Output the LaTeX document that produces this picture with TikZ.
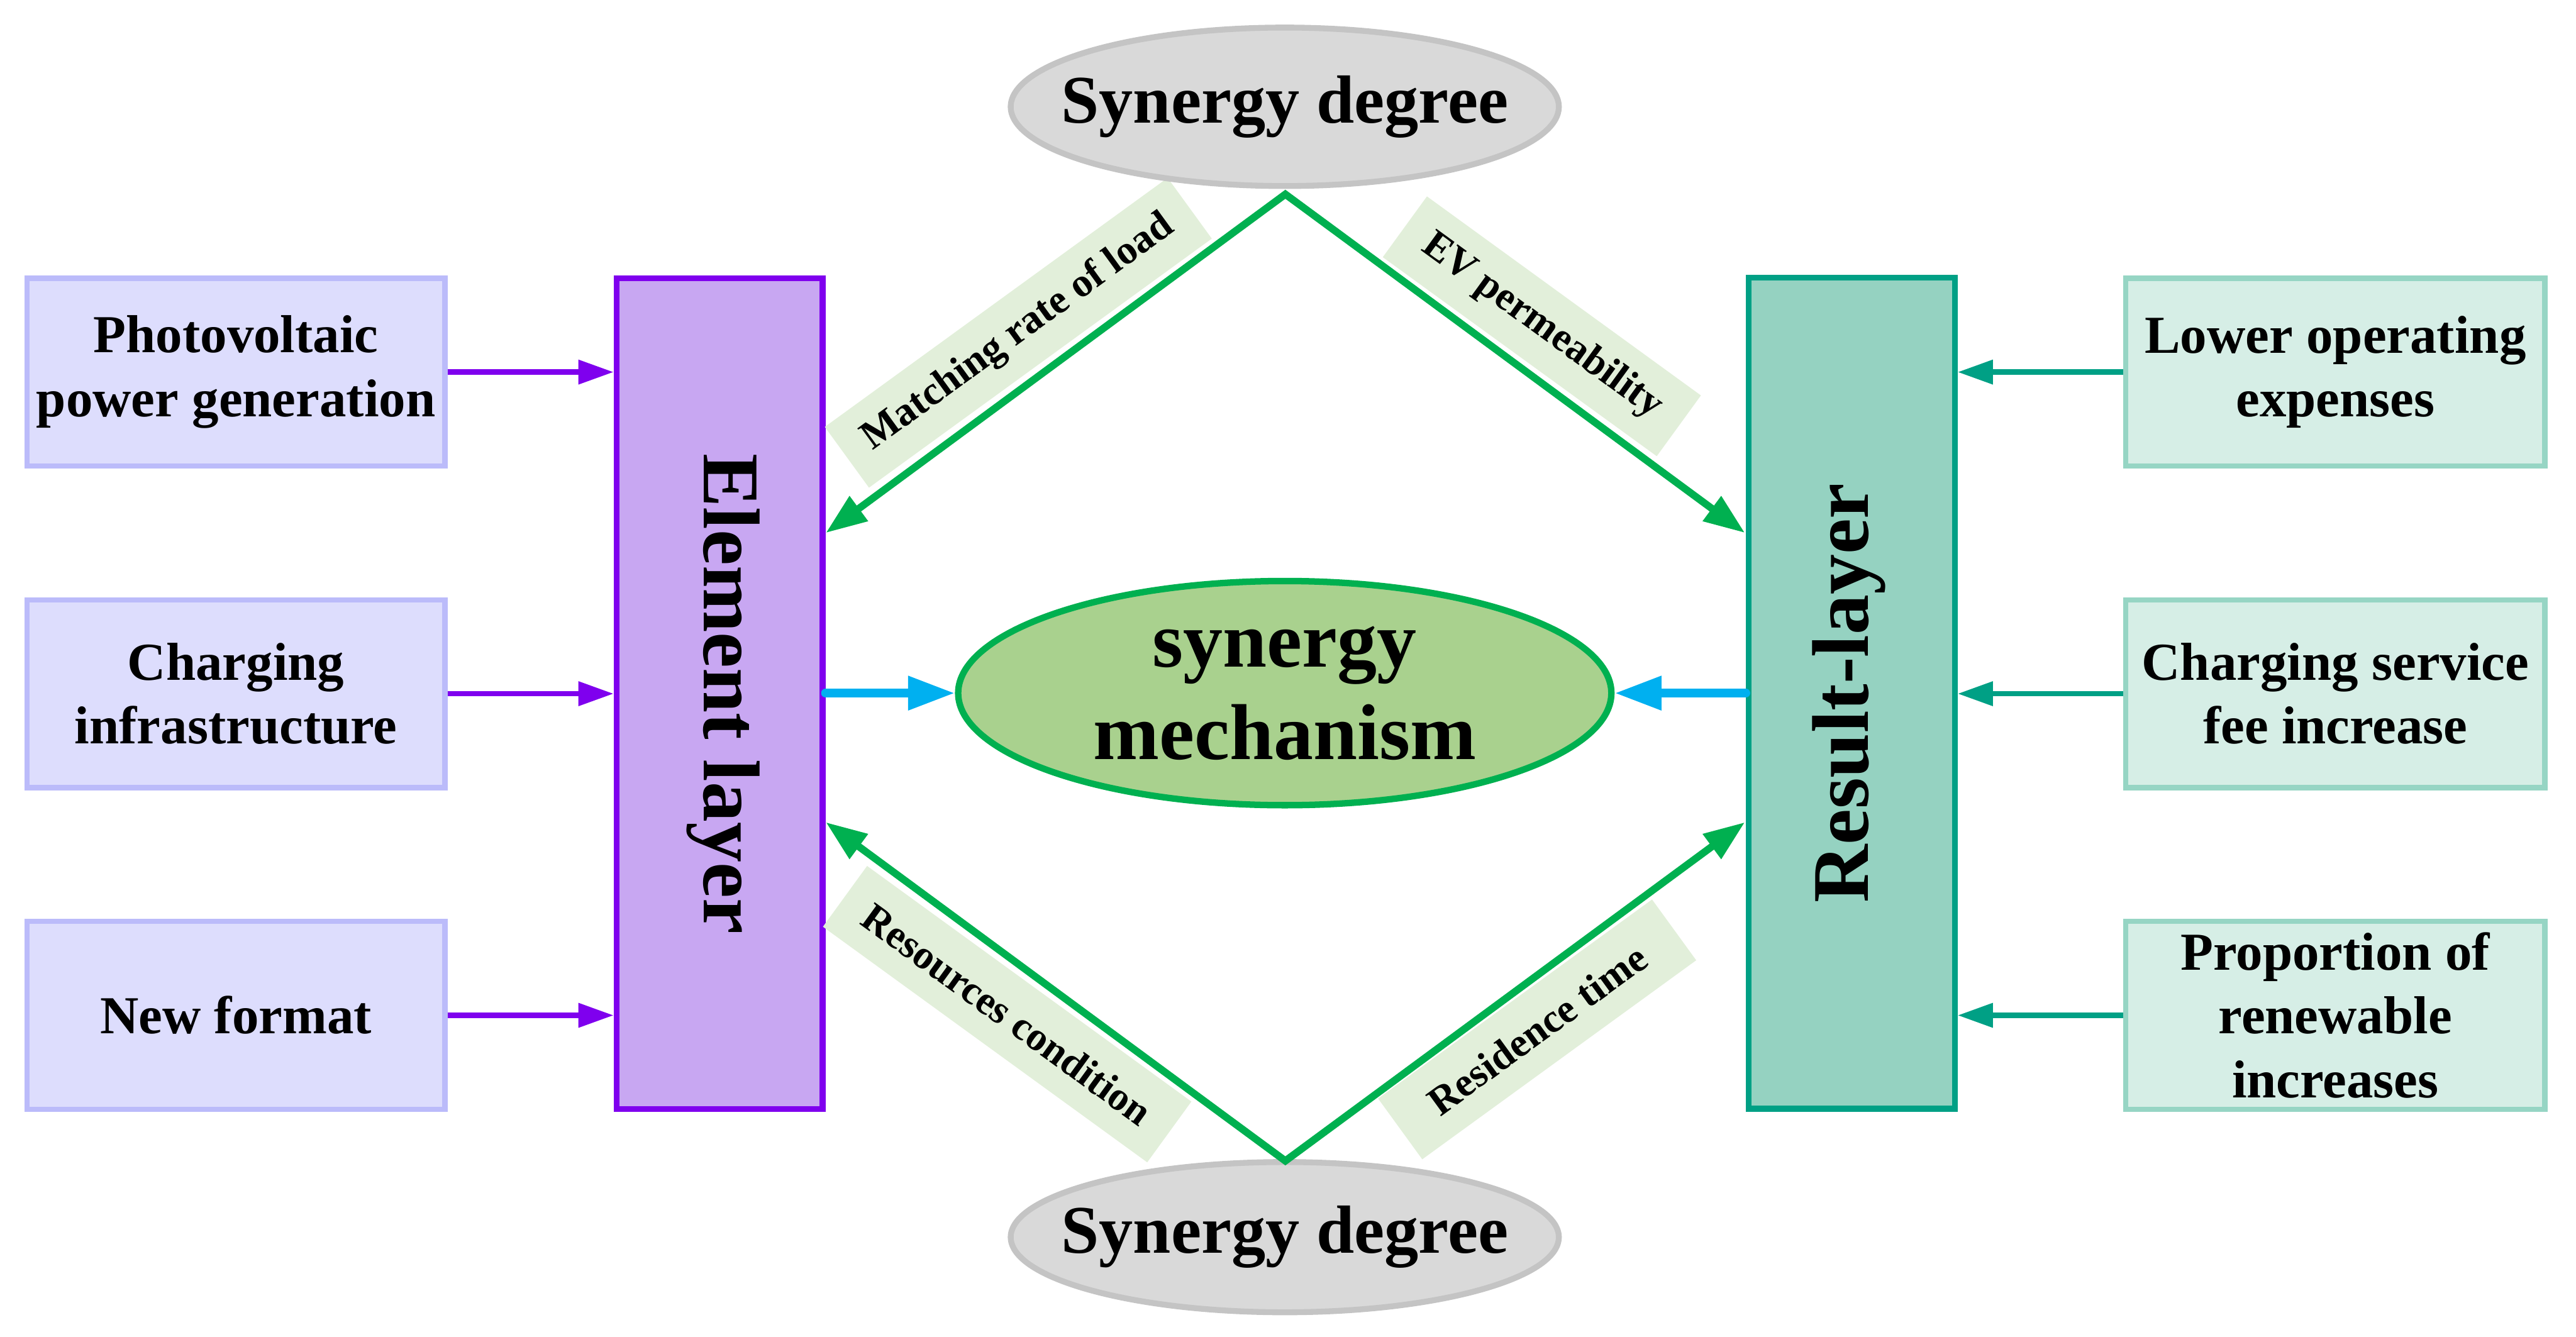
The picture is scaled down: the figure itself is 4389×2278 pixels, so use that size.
\documentclass[tikz,border=0pt]{standalone}
\usepackage{fontspec}
\setmainfont{Liberation Serif}
\usetikzlibrary{arrows.meta,shapes.geometric}
\definecolor{lbFill}{RGB}{221,221,253}
\definecolor{lbDraw}{RGB}{187,187,250}
\definecolor{eFill}{RGB}{200,167,242}
\definecolor{eDraw}{RGB}{127,0,238}
\definecolor{rFill}{RGB}{149,210,193}
\definecolor{rDraw}{RGB}{0,160,133}
\definecolor{rbFill}{RGB}{214,238,230}
\definecolor{rbDraw}{RGB}{150,213,196}
\definecolor{gLine}{RGB}{0,176,80}
\definecolor{mFill}{RGB}{169,209,142}
\definecolor{sdFill}{RGB}{217,217,217}
\definecolor{sdDraw}{RGB}{196,196,196}
\definecolor{bnFill}{RGB}{226,239,218}
\definecolor{bLine}{RGB}{0,176,240}
\begin{document}
\begin{tikzpicture}[x=0.1pt,y=-0.1pt,
  boxtext/.style={align=center,font=\fontsize{9.1}{10.9}\selectfont\bfseries,inner sep=0pt},
  leftbox/.style={boxtext,draw=lbDraw,fill=lbFill,line width=0.9pt,minimum width=71.2pt,minimum height=32pt},
  rightbox/.style={boxtext,draw=rbDraw,fill=rbFill,line width=0.9pt,minimum width=71.4pt,minimum height=32pt},
  elayer/.style={draw=eDraw,fill=eFill,line width=1pt,minimum width=35.1pt,minimum height=141.6pt,inner sep=0pt},
  rlayer/.style={draw=rDraw,fill=rFill,line width=1pt,minimum width=35.1pt,minimum height=141.6pt,inner sep=0pt},
  layertext/.style={font=\fontsize{13.7}{16}\selectfont\bfseries,inner sep=0pt},
  grayell/.style={ellipse,draw=sdDraw,fill=sdFill,line width=1pt,inner sep=0pt,font=\fontsize{11.6}{13}\selectfont\bfseries},
  mechell/.style={ellipse,draw=gLine,fill=mFill,line width=1.1pt,inner sep=0pt,minimum width=111.3pt,minimum height=38.2pt,align=center,font=\fontsize{13.5}{15.7}\selectfont\bfseries},
  banner/.style={fill=bnFill,inner sep=0pt,minimum height=12.8pt,font=\fontsize{6.9}{8}\selectfont\bfseries},
  parrow/.style={draw=eDraw,line width=0.9pt,-{Triangle[length=6pt,width=4pt]}},
  tarrow/.style={draw=rDraw,line width=0.9pt,-{Triangle[length=6pt,width=4pt]}},
  barrow/.style={draw=bLine,line width=1.5pt,line cap=round,-{Triangle[length=8pt,width=5.5pt]}},
  garrow/.style={draw=gLine,line width=1.25pt,{Triangle[length=7pt,width=5pt]}-{Triangle[length=7pt,width=5pt]}}
]
\useasboundingbox (0,0) rectangle (4389,2278);

% left boxes
\node[leftbox] (lb1) at (402,634) {Photovoltaic\\power generation};
\node[leftbox] (lb2) at (402,1182) {Charging\\infrastructure};
\node[leftbox] (lb3) at (402,1730) {New format};

% right boxes
\node[rightbox] (rb1) at (3979,634) {Lower operating\\expenses};
\node[rightbox] (rb2) at (3979,1182) {Charging service\\fee increase};
\node[rightbox] (rb3) at (3979,1730) {Proportion of\\renewable\\increases};

% layers
\node[elayer] (elem) at (1226,1182) {};
\node[layertext,rotate=-90] (elemtxt) at (1232,1182) {Element layer};
\node[rlayer] (res) at (3155,1181) {};
\node[layertext,rotate=90] (restxt) at (3150,1181) {Result-layer};

% banners
\node[banner,rotate=36,minimum width=72.2pt] (bn1) at (1735,567) {Matching rate of load};
\node[banner,rotate=-36,minimum width=57.7pt] (bn2) at (2627,556) {EV permeability};
\node[banner,rotate=-36,minimum width=68.3pt] (bn3) at (1716,1728) {Resources condition};
\node[banner,rotate=36,minimum width=57.7pt] (bn4) at (2619,1754) {Residence time};

% ellipses
\node[grayell,minimum width=93.4pt,minimum height=27pt] (sdT) at (2189,182) {\makebox[0pt]{Synergy degree}};
\node[grayell,minimum width=93.4pt,minimum height=25.6pt] (sdB) at (2189,2108) {\makebox[0pt]{Synergy degree}};
\node[mechell] (mech) at (2189,1181) {synergy\\mechanism};

% diamond coordinates
\coordinate (apT) at (2190,331);
\coordinate (apB) at (2190,1978);
\coordinate (tl) at (1407,908);
\coordinate (tr) at (2973,908);
\coordinate (bl) at (1407,1401);
\coordinate (br) at (2973,1401);

\draw[garrow] (tl) -- (apT) -- (tr);
\draw[garrow] (bl) -- (apB) -- (br);

% arrows
\draw[parrow] (lb1.east) -- (lb1.east -| elem.west);
\draw[parrow] (lb2.east) -- (lb2.east -| elem.west);
\draw[parrow] (lb3.east) -- (lb3.east -| elem.west);
\draw[tarrow] (rb1.west) -- (rb1.west -| res.east);
\draw[tarrow] (rb2.west) -- (rb2.west -| res.east);
\draw[tarrow] (rb3.west) -- (rb3.west -| res.east);
\draw[barrow] (elem.east |- mech.west) -- (mech.west);
\draw[barrow] (res.west |- mech.east) -- (mech.east);
\end{tikzpicture}
\end{document}
